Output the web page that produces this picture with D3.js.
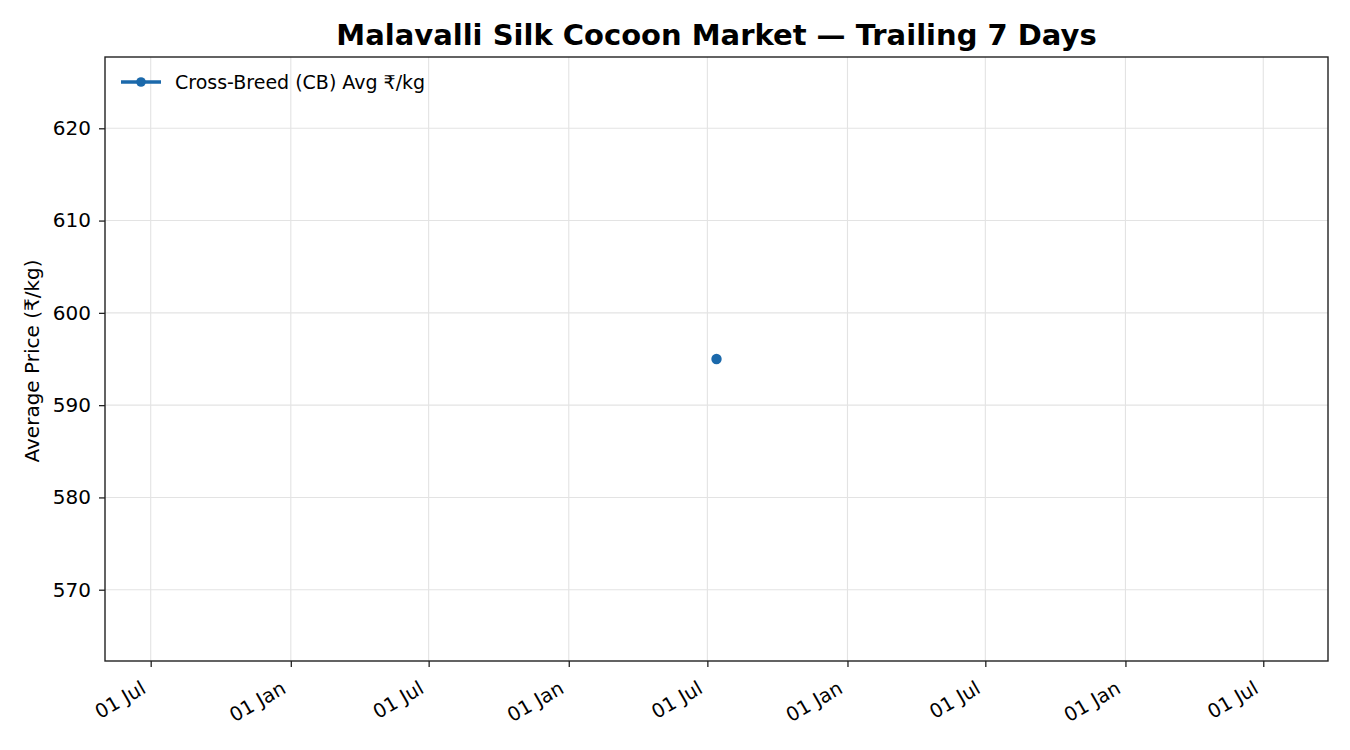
<!DOCTYPE html>
<html>
<head>
<meta charset="utf-8">
<script src="https://cdn.jsdelivr.net/npm/d3@7"></script>
<style>
  body { margin: 0; background: #fff; }
  svg text { font-family: "DejaVu Sans", sans-serif; fill: #000; }
</style>
</head>
<body>
<svg id="main-svg" width="1350" height="750"></svg>
<script>
// data
const dates = ['2024-07-13'];
const cbAvg = [595];
const yTicks = [570, 580, 590, 600, 610, 620];
const seriesName = 'Cross-Breed (CB) Avg ₹/kg';
const chartTitle = 'Malavalli Silk Cocoon Market — Trailing 7 Days';
const yLabel = 'Average Price (₹/kg)';

const parse = d3.timeParse('%Y-%m-%d');
const points = dates.map((d, i) => ({ date: parse(d), value: cbAvg[i] }));

const svg = d3.select('#main-svg');
const margin = { left: 105, right: 22, top: 57, bottom: 89 };
const W = 1350, H = 750;
const blue = '#1b69ab';

// domain like matplotlib does for a single point: widen, then 5% margins
const DAY = 864e5;
let [x0, x1] = d3.extent(points, d => +d.date);
if (x0 === x1) { x0 -= 730 * DAY; x1 += 730 * DAY; }
const xm = (x1 - x0) * 0.05;
let [y0, y1] = d3.extent(points, d => d.value);
if (y0 === y1) { const e = Math.abs(y0) * 0.05; y0 -= e; y1 += e; }
const ym = (y1 - y0) * 0.05;

const x = d3.scaleTime()
    .domain([new Date(x0 - xm), new Date(x1 + xm)])
    .range([margin.left, W - margin.right]);
const y = d3.scaleLinear()
    .domain([y0 - ym, y1 + ym])
    .range([H - margin.bottom, margin.top]);

const xTicks = x.ticks(d3.timeMonth.every(6));

// grid
svg.append('g').selectAll('line')
    .data(xTicks).enter().append('line')
    .attr('x1', d => x(d)).attr('x2', d => x(d))
    .attr('y1', margin.top).attr('y2', H - margin.bottom)
    .attr('stroke', '#e3e3e3').attr('stroke-width', 1.1);
svg.append('g').selectAll('line')
    .data(yTicks).enter().append('line')
    .attr('x1', margin.left).attr('x2', W - margin.right)
    .attr('y1', d => y(d)).attr('y2', d => y(d))
    .attr('stroke', '#e3e3e3').attr('stroke-width', 1.1);

// axes
const xAxis = svg.append('g')
    .attr('transform', `translate(0,${H - margin.bottom})`)
    .call(d3.axisBottom(x).tickValues(xTicks).tickFormat(d3.timeFormat('%d %b')).tickSize(6));
xAxis.selectAll('text')
    .style('font-size', '19.5px')
    .attr('text-anchor', 'end')
    .attr('x', 0).attr('y', 0).attr('dy', 0)
    .attr('transform', 'translate(-4,31) rotate(-30)');

const yAxis = svg.append('g')
    .attr('transform', `translate(${margin.left},0)`)
    .call(d3.axisLeft(y).tickValues(yTicks).tickFormat(d3.format('d')).tickSize(6).tickPadding(8));
yAxis.selectAll('text').style('font-size', '20px');

svg.selectAll('.domain').remove();
svg.selectAll('.tick line').attr('stroke', '#222').attr('stroke-width', 1.3);

// frame
svg.append('rect')
    .attr('x', margin.left).attr('y', margin.top)
    .attr('width', W - margin.left - margin.right)
    .attr('height', H - margin.top - margin.bottom)
    .attr('fill', 'none').attr('stroke', '#222').attr('stroke-width', 1.4);

// series
svg.append('path')
    .datum(points)
    .attr('fill', 'none').attr('stroke', blue).attr('stroke-width', 3)
    .attr('d', d3.line().x(d => x(d.date)).y(d => y(d.value)));
svg.append('g').selectAll('circle')
    .data(points).enter().append('circle')
    .attr('cx', d => x(d.date)).attr('cy', d => y(d.value))
    .attr('r', 5.2).attr('fill', blue);

// legend
const lg = svg.append('g').attr('transform', `translate(${margin.left + 16},82)`);
lg.append('line').attr('x1', 0).attr('x2', 40).attr('y1', 0).attr('y2', 0)
    .attr('stroke', blue).attr('stroke-width', 3.5);
lg.append('circle').attr('cx', 20).attr('cy', 0).attr('r', 4.8).attr('fill', blue);
lg.append('text').attr('x', 54).attr('y', 0).attr('dy', '0.35em')
    .style('font-size', '19px').text(seriesName);

// title and y label
svg.append('text')
    .attr('x', (margin.left + W - margin.right) / 2).attr('y', 45)
    .attr('text-anchor', 'middle')
    .style('font-size', '29px').style('font-weight', 'bold')
    .text(chartTitle);
svg.append('text')
    .attr('transform', `translate(39,${(margin.top + H - margin.bottom) / 2 + 2}) rotate(-90)`)
    .attr('text-anchor', 'middle')
    .style('font-size', '20px')
    .text(yLabel);
</script>
</body>
</html>
